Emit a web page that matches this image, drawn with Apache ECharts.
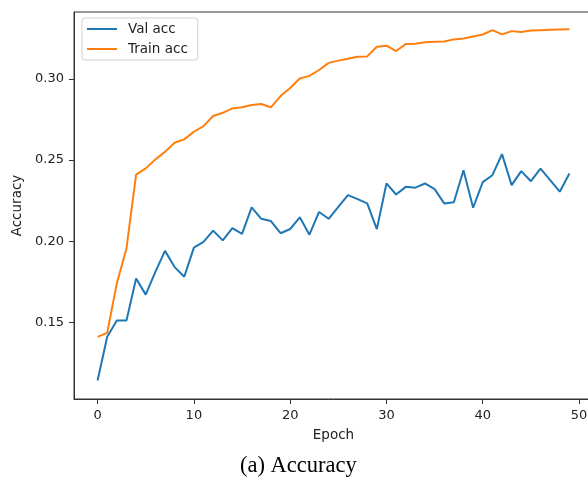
<!DOCTYPE html>
<html>
<head>
    <meta charset="UTF-8">
    <title>Accuracy</title>
    <script type="text/javascript" src="https://cdn.jsdelivr.net/npm/echarts@6/dist/echarts.min.js"></script>
    <style>
        *{margin:0;padding:0}
        html,body{width:100%;height:100%;background:#fff;overflow:hidden}
        /* 比窗口宽一点，右边框被裁掉，和原图一样 */
        #main{width:600px;height:483px}
    </style>
</head>
<body>
<div id="main"></div>

<script type="text/javascript">
    // 数据
    var epochs = [];
    for (var i = 0; i < 50; i++) epochs.push(i);

    var valAcc = [
        0.114, 0.141, 0.151, 0.151, 0.177, 0.167, 0.181, 0.194, 0.184, 0.178,
        0.196, 0.1995, 0.2065, 0.2005, 0.208, 0.2045, 0.2208, 0.2138, 0.2124, 0.2049,
        0.2075, 0.2147, 0.204, 0.218, 0.2138, 0.2212, 0.2284, 0.2259, 0.2233, 0.2074,
        0.2356, 0.2288, 0.2335, 0.233, 0.2356, 0.2321, 0.2233, 0.224, 0.2438, 0.2206,
        0.2364, 0.2407, 0.2537, 0.2346, 0.2432, 0.237, 0.2447, 0.2377, 0.2305, 0.2418
    ];
    var trainAcc = [
        0.1409, 0.1434, 0.174, 0.1955, 0.241, 0.2449, 0.2504, 0.2551, 0.2607, 0.2628,
        0.2675, 0.271, 0.2772, 0.2792, 0.2819, 0.2826, 0.284, 0.2846, 0.2826, 0.2895,
        0.2945, 0.3004, 0.302, 0.3056, 0.31, 0.3114, 0.3125, 0.3138, 0.314, 0.320,
        0.3206, 0.3173, 0.3216, 0.3218, 0.3228, 0.323, 0.3232, 0.3245, 0.325, 0.3263,
        0.3275, 0.3302, 0.3276, 0.3296, 0.329, 0.330, 0.3302, 0.3304, 0.3306, 0.3308
    ];
    var xTicks = [0, 10, 20, 30, 40, 50];
    var yTicks = [0.15, 0.20, 0.25, 0.30];

    function pairs(ys) {
        return epochs.map(function (e, k) { return [e, ys[k]]; });
    }

    var font = 'DejaVu Sans';
    var option = {
        animation: false,
        title: {
            text: '(a) Accuracy',
            left: 240,
            top: 455,
            padding: 0,
            textStyle: {fontFamily: 'Liberation Serif', fontSize: 22.5, fontWeight: 'normal', color: '#000'}
        },
        legend: {
            orient: 'vertical',
            left: 82,
            top: 18,
            padding: [4, 10, 4, 4],
            itemWidth: 30,
            itemHeight: 14,
            itemGap: 6,
            itemStyle: {opacity: 0},
            backgroundColor: 'rgba(255,255,255,0.8)',
            borderColor: '#d0d0d0',
            borderWidth: 1,
            borderRadius: 3,
            textStyle: {fontFamily: font, fontSize: 13.5, color: '#222', padding: [0, 0, 0, 6]},
            data: ['Val acc', 'Train acc']
        },
        grid: {
            left: 74, top: 12, width: 519, bottom: 84,
            show: true, borderColor: '#333', borderWidth: 1
        },
        xAxis: {
            type: 'value',
            min: -2.45,
            max: 51.45,
            name: 'Epoch',
            nameLocation: 'middle',
            nameGap: 29,
            nameTextStyle: {fontFamily: font, fontSize: 13.5, color: '#222'},
            axisLine: {show: true, onZero: false, lineStyle: {color: '#333'}},
            axisTick: {show: true, inside: false, length: 5, customValues: xTicks, lineStyle: {color: '#333'}},
            axisLabel: {customValues: xTicks, margin: 10, fontFamily: font, fontSize: 13, color: '#222'},
            splitLine: {show: false}
        },
        yAxis: {
            type: 'value',
            min: 0.1026,
            max: 0.3414,
            name: 'Accuracy',
            nameLocation: 'middle',
            nameGap: 50,
            nameTextStyle: {fontFamily: font, fontSize: 13.5, color: '#222'},
            axisLine: {show: true, onZero: false, lineStyle: {color: '#333'}},
            axisTick: {show: true, inside: false, length: 5, customValues: yTicks, lineStyle: {color: '#333'}},
            axisLabel: {
                customValues: yTicks, margin: 10, fontFamily: font, fontSize: 13, color: '#222',
                formatter: function (v) { return v.toFixed(2); }
            },
            splitLine: {show: false}
        },
        series: [
            {
                name: 'Val acc',
                type: 'line',
                symbol: 'none',
                color: '#1f77b4',
                lineStyle: {width: 2, color: '#1f77b4'},
                data: pairs(valAcc)
            },
            {
                name: 'Train acc',
                type: 'line',
                symbol: 'none',
                color: '#ff7f0e',
                lineStyle: {width: 2, color: '#ff7f0e'},
                data: pairs(trainAcc)
            }
        ]
    };

    var myChart = echarts.init(document.getElementById('main'));
    myChart.setOption(option);
</script>
</body>
</html>
